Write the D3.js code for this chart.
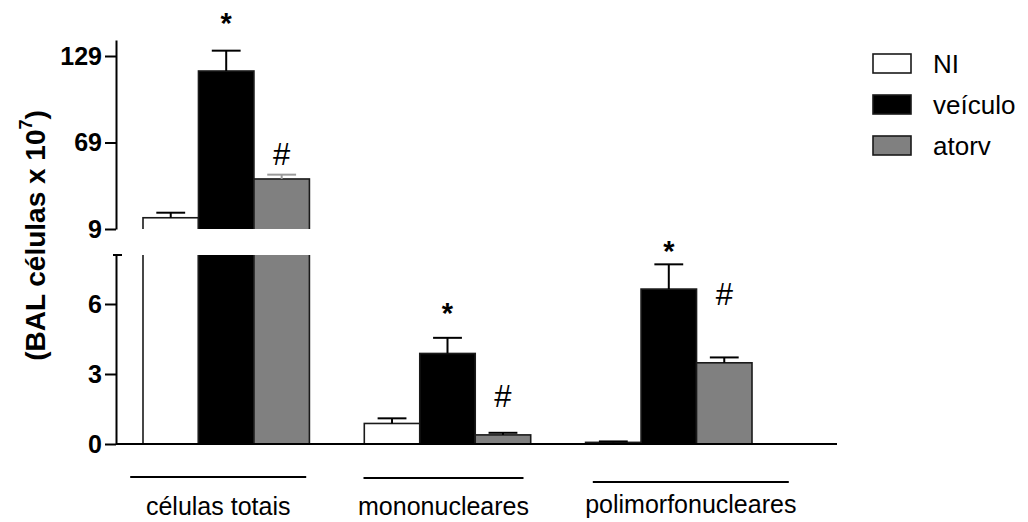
<!DOCTYPE html>
<html>
<head>
<meta charset="utf-8">
<script src="https://cdn.jsdelivr.net/npm/d3@7"></script>
<style>
  html, body { margin: 0; padding: 0; background: #fff; }
  svg { display: block; font-family: "Liberation Sans", Arial, Helvetica, sans-serif; }
</style>
</head>
<body>
<script>
// BAL cell counts (x 10^7), mean and SEM per group
const categories = ["células totais", "mononucleares", "polimorfonucleares"];
const seriesNames = ["NI", "veículo", "atorv"];
const meanNI      = [16.8, 0.88, 0.07];
const meanVeiculo = [118.6, 3.88, 6.64];
const meanAtorv   = [43.7, 0.39, 3.48];
const semNI       = [3.5, 0.22, 0.04];
const semVeiculo  = [14.1, 0.67, 1.06];
const semAtorv    = [3.0, 0.09, 0.23];
const upperTicks  = [9, 69, 129];
const lowerTicks  = [0, 3, 6];
// significance marks: "*" vs NI over veículo, "#" vs veículo over atorv (level in axis units)
const starLevel   = [144.7, 5.19, 7.83];
const hashLevel   = [53.4, 1.60, 5.96];

const means = [meanNI, meanVeiculo, meanAtorv];
const sems  = [semNI, semVeiculo, semAtorv];
const fills = ["#ffffff", "#000000", "#808080"];

const W = 1028, H = 522;
const svg = d3.select("body").append("svg").attr("width", W).attr("height", H);

// broken y axis: lower segment 0–8.1, upper segment 9–140
const axisX = 116;
const yLow  = d3.scaleLinear().domain([0, 8.1]).range([444, 255]);
const yHigh = d3.scaleLinear().domain([9, 140.1]).range([229, 40]);
const breakLow = yLow.domain()[1];
const yFor = v => (v > breakLow ? yHigh : yLow);

const x0 = d3.scaleBand().domain(categories).range([143, 752]).paddingInner(0.248).paddingOuter(0);
const x1 = d3.scaleBand().domain(seriesNames).range([0, x0.bandwidth()]);

const rows = categories.flatMap((c, i) => seriesNames.map((s, j) => ({
  cat: c, ser: s, j, i, mean: means[j][i], sem: sems[j][i]
})));

const defs = svg.append("defs");
defs.append("clipPath").attr("id", "clipLow").append("rect")
  .attr("x", 0).attr("width", W).attr("y", yLow.range()[1]).attr("height", yLow.range()[0] - yLow.range()[1] + 2);
defs.append("clipPath").attr("id", "clipHigh").append("rect")
  .attr("x", 0).attr("width", W).attr("y", 0).attr("height", yHigh.range()[0]);

const barStroke = "#1a1a1a";

// lower segment bars
svg.append("g").attr("clip-path", "url(#clipLow)")
  .selectAll("rect").data(rows).join("rect")
  .attr("x", d => x0(d.cat) + x1(d.ser))
  .attr("width", x1.bandwidth())
  .attr("y", d => yLow(d.mean))
  .attr("height", d => yLow(0) - yLow(d.mean))
  .attr("fill", d => fills[d.j])
  .attr("stroke", barStroke).attr("stroke-width", 1.6);

// upper segment bars (only values above the break)
svg.append("g").attr("clip-path", "url(#clipHigh)")
  .selectAll("rect").data(rows.filter(d => d.mean > yHigh.domain()[0])).join("rect")
  .attr("x", d => x0(d.cat) + x1(d.ser))
  .attr("width", x1.bandwidth())
  .attr("y", d => yHigh(d.mean))
  .attr("height", d => yHigh(0) - yHigh(d.mean))
  .attr("fill", d => fills[d.j])
  .attr("stroke", barStroke).attr("stroke-width", 1.6);

// error bars (upper SEM only)
const errColor = d => (d.j === 2 && d.mean > breakLow) ? "#9a9a9a" : "#000";
const cx = d => x0(d.cat) + x1(d.ser) + x1.bandwidth() / 2;
const capHalf = x1.bandwidth() * 0.26;
const eg = svg.append("g").selectAll("g").data(rows).join("g")
  .attr("stroke", errColor).attr("stroke-width", 2);
eg.append("line")
  .attr("x1", cx).attr("x2", cx)
  .attr("y1", d => yFor(d.mean)(d.mean))
  .attr("y2", d => yFor(d.mean)(d.mean + d.sem));
eg.append("line")
  .attr("x1", d => cx(d) - capHalf).attr("x2", d => cx(d) + capHalf)
  .attr("y1", d => yFor(d.mean)(d.mean + d.sem))
  .attr("y2", d => yFor(d.mean)(d.mean + d.sem));

// axes
function styleAxis(g) {
  g.select(".domain").attr("stroke", "#000").attr("stroke-width", 2);
  g.selectAll(".tick line").attr("stroke", "#000").attr("stroke-width", 2);
  g.selectAll(".tick text").attr("fill", "#000")
    .style("font-size", "25px").style("font-weight", "bold")
    .style("font-family", "'Liberation Sans', Arial, sans-serif");
}
svg.append("g").attr("transform", `translate(${axisX},0)`)
  .call(d3.axisLeft(yHigh).tickValues(upperTicks).tickSize(11).tickSizeOuter(0).tickPadding(3))
  .call(styleAxis);
svg.append("g").attr("transform", `translate(${axisX},0)`)
  .call(d3.axisLeft(yLow).tickValues(lowerTicks).tickSize(11).tickSizeOuter(0).tickPadding(3))
  .call(styleAxis);
// cap at the top of the lower segment
svg.append("line")
  .attr("x1", axisX - 3).attr("x2", axisX + 6)
  .attr("y1", yLow(breakLow)).attr("y2", yLow(breakLow))
  .attr("stroke", "#000").attr("stroke-width", 2);
// baseline
svg.append("line")
  .attr("x1", axisX).attr("x2", 837)
  .attr("y1", yLow(0)).attr("y2", yLow(0))
  .attr("stroke", "#000").attr("stroke-width", 2);

// category rules and labels
const labelShift = [-8, -4, 22];
const ruleHalf = [88, 80, 98];
const ruleY = [477, 478, 482];
const cg = svg.append("g").selectAll("g").data(categories).join("g")
  .attr("transform", (c, i) => `translate(${x0(c) + x0.bandwidth() / 2 + labelShift[i]},0)`);
cg.append("line")
  .attr("x1", (c, i) => -ruleHalf[i]).attr("x2", (c, i) => ruleHalf[i])
  .attr("y1", (c, i) => ruleY[i]).attr("y2", (c, i) => ruleY[i])
  .attr("stroke", "#000").attr("stroke-width", 2);
cg.append("text")
  .attr("text-anchor", "middle").attr("y", (c, i) => i === 2 ? 513 : 515)
  .style("font-size", "25px").attr("fill", "#000")
  .text(c => c);

// significance marks
svg.append("g").selectAll("text").data(categories).join("text")
  .attr("x", c => x0(c) + x1("veículo") + x1.bandwidth() / 2)
  .attr("y", (c, i) => yFor(starLevel[i])(starLevel[i]))
  .attr("text-anchor", "middle")
  .style("font-size", "29px").style("font-weight", "bold")
  .text("*");
svg.append("g").selectAll("text").data(categories).join("text")
  .attr("x", c => x0(c) + x1("atorv") + x1.bandwidth() / 2)
  .attr("y", (c, i) => yFor(hashLevel[i])(hashLevel[i]))
  .attr("text-anchor", "middle")
  .style("font-size", "31px")
  .text("#");

// y axis title
const title = svg.append("text")
  .attr("transform", "translate(45,235.5) rotate(-90)")
  .attr("text-anchor", "middle")
  .style("font-size", "28px").style("font-weight", "bold");
title.append("tspan").text("(BAL células x 10");
title.append("tspan").attr("dy", -13).style("font-size", "18px").text("7");
title.append("tspan").attr("dy", 13).text(")");

// legend
const lg = svg.append("g").selectAll("g").data(seriesNames).join("g")
  .attr("transform", (s, j) => `translate(873,${54 + j * 41})`);
lg.append("rect").attr("width", 38).attr("height", 19)
  .attr("fill", (s, j) => fills[j]).attr("stroke", barStroke).attr("stroke-width", 1.6);
lg.append("text").attr("x", 60).attr("y", 19)
  .style("font-size", "26px").text(s => s);
</script>
</body>
</html>
